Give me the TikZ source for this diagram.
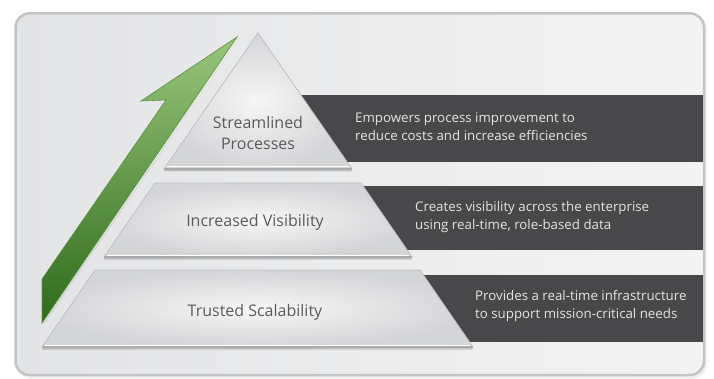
\documentclass[tikz,border=0pt]{standalone}
\usepackage{fontspec}
\setmainfont{Open Sans}
\usetikzlibrary{shadows}
\definecolor{frameL}{HTML}{E3E4E6}
\definecolor{frameR}{HTML}{F3F3F3}
\definecolor{frameLine}{HTML}{C3C4C6}
\definecolor{bandC}{HTML}{48484A}
\definecolor{bandText}{HTML}{E4E4E4}
\definecolor{pieceIn}{HTML}{F6F6F6}
\definecolor{pieceOut}{HTML}{D4D5D7}
\definecolor{pieceLine}{HTML}{BFC0C2}
\definecolor{pieceBase}{HTML}{A9AAAC}
\definecolor{labelC}{HTML}{5A5B5D}
\definecolor{greenTop}{HTML}{98C67B}
\definecolor{greenBot}{HTML}{2F6A1B}
\definecolor{greenLine}{HTML}{5E9140}
\tikzset{
  band/.style={fill=bandC},
  piece/.style={inner color=pieceIn, outer color=pieceOut, draw=pieceLine, line width=0.8pt, line join=miter,
    drop shadow={shadow xshift=0pt, shadow yshift=-2.5pt, opacity=0.18, fill=black}},
  base/.style={draw=pieceBase, line width=1.4pt},
  highlight/.style={draw=white, line width=1pt},
  plabel/.style={font=\fontsize{16}{21}\selectfont, text=labelC, align=center},
  btext/.style={font=\fontsize{13.3}{18}\selectfont, text=bandText, align=left, anchor=west, inner sep=0pt}
}
\begin{document}
\begin{tikzpicture}[x=1pt,y=-1pt]
\useasboundingbox (0,0) rectangle (714,379);
\fill[white] (0,0) rectangle (714,379);
% frame
\fill[black, opacity=0.06, rounded corners=15pt] (17,15) rectangle (707,379);
\draw[rounded corners=14pt, left color=frameL, right color=frameR, draw=frameLine, line width=2.5pt] (15.5,13.3) rectangle (704,375);
% bands
\fill[band] (290,95) rectangle (702.7,162);
\fill[band] (340,186) rectangle (702.7,250);
\fill[band] (400,275) rectangle (702.7,342);
% arrow
\coordinate (tip) at (237,37);
\coordinate (barb) at (141,101);
\coordinate (notch) at (166,100);
\coordinate (bl) at (42,279);
\coordinate (br) at (42,323);
\fill[black, opacity=0.08] ([xshift=3pt]tip) -- ([xshift=3pt]br) -- ([xshift=1pt]br) -- cycle;
\draw[top color=greenTop, bottom color=greenBot, draw=greenLine, line width=0.6pt, line join=miter]
  (tip) -- (barb) -- (notch) -- (bl) -- (br) -- cycle;
% pieces
\coordinate (t1) at (258,33);
\coordinate (t2) at (352,169);
\coordinate (t3) at (164,169);
\path[piece] (t1) -- (t2) -- (t3) -- cycle;
\draw[base] (t3) -- (t2);
\draw[highlight] (167,167) -- (349,167);

\coordinate (m1) at (155,183);
\coordinate (m2) at (361,183);
\coordinate (m3) at (412,257);
\coordinate (m4) at (104,257);
\path[piece] (m1) -- (m2) -- (m3) -- (m4) -- cycle;
\draw[base] (m4) -- (m3);
\draw[highlight] (107,255) -- (409,255);

\coordinate (b1) at (95,270);
\coordinate (b2) at (420,270);
\coordinate (b3) at (473,347);
\coordinate (b4) at (42,347);
\path[piece] (b1) -- (b2) -- (b3) -- (b4) -- cycle;
\draw[base] (b4) -- (b3);
\draw[highlight] (45,345) -- (470,345);

% labels
\node[plabel] (l1) at (258,133) {Streamlined\\Processes};
\node[plabel] (l2) at (255,222) {Increased Visibility};
\node[plabel] (l3) at (255,312) {Trusted Scalability};
\node[btext] (d1) at (355,127) {Empowers process improvement to\\reduce costs and increase efficiencies};
\node[btext] (d2) at (415,217) {Creates visibility across the enterprise\\using real-time, role-based data};
\node[btext] (d3) at (475,306) {Provides a real-time infrastructure\\to support mission-critical needs};
\end{tikzpicture}
\end{document}
